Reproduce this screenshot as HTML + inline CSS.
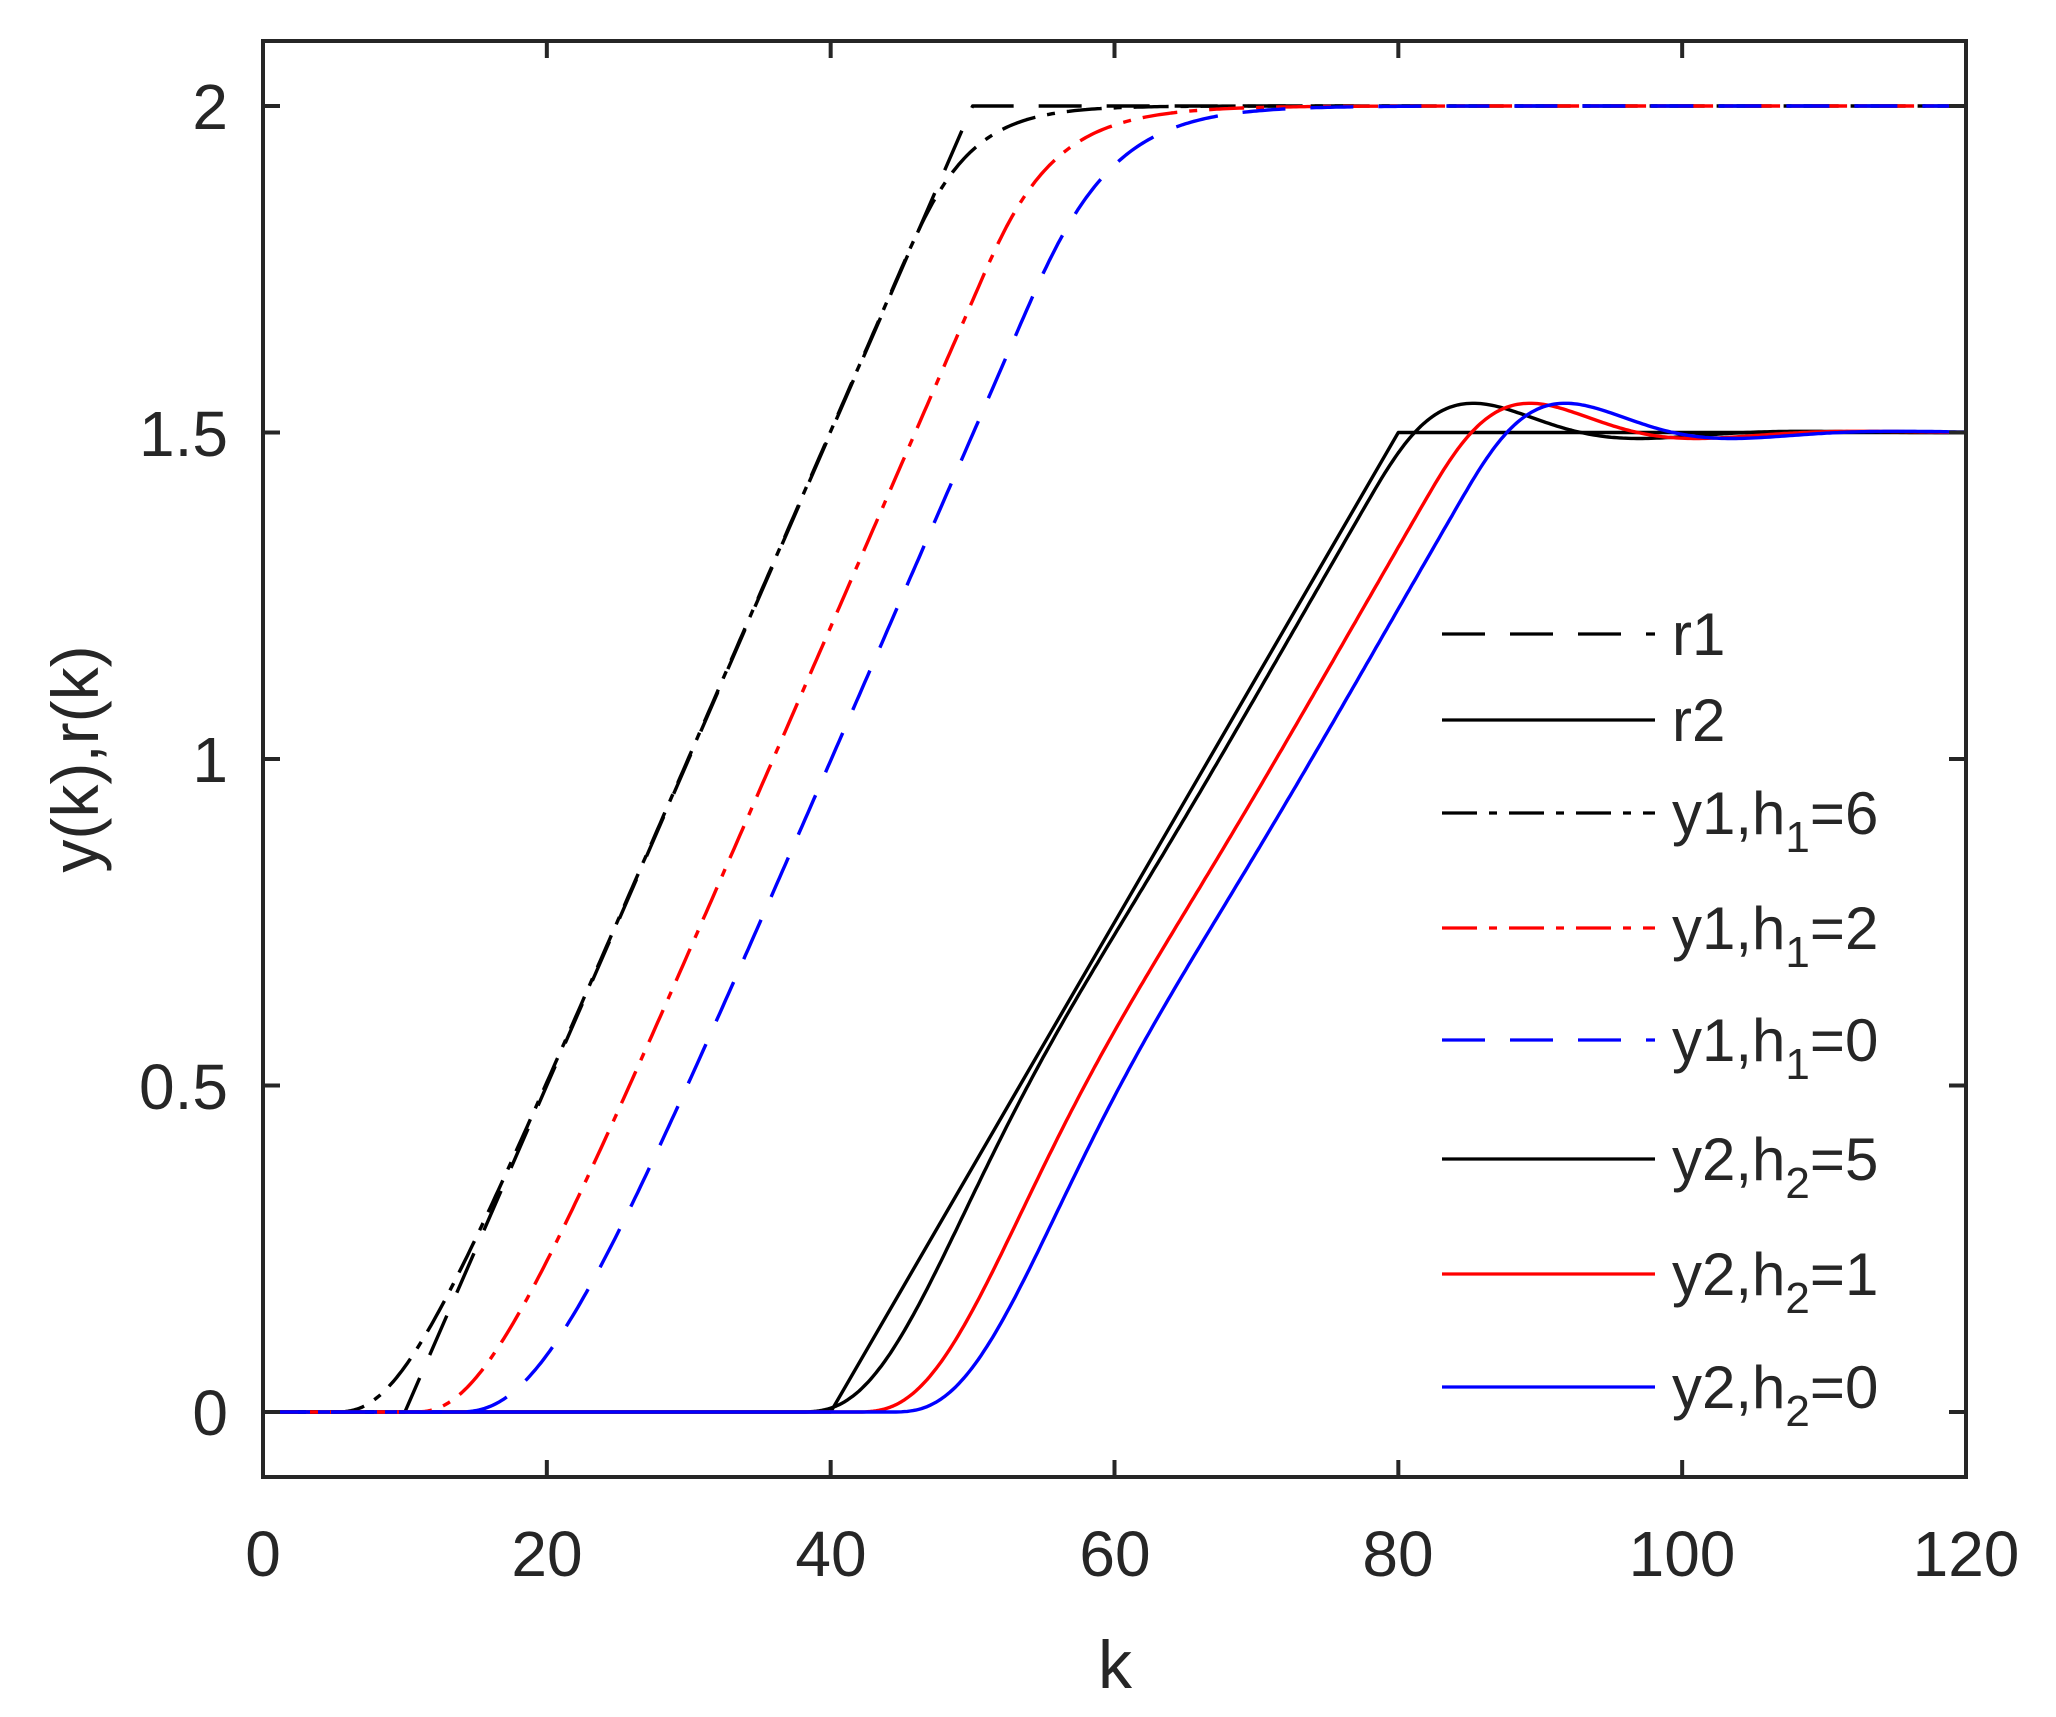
<!DOCTYPE html>
<html><head><meta charset="utf-8"><style>
html,body{margin:0;padding:0;background:#fff;}
svg{display:block;}
text{font-family:"Liberation Sans",Arial,sans-serif;fill:#262626;}
</style></head><body>
<svg id="s" width="2056" height="1717" viewBox="0 0 2056 1717" xmlns="http://www.w3.org/2000/svg">
<defs><clipPath id="c"><rect x="263" y="41" width="1703" height="1436"/></clipPath></defs>
<rect width="2056" height="1717" fill="#fff"/>
<g id="curves" clip-path="url(#c)" fill="none" stroke-width="3.4" stroke-linejoin="round"></g>
<g stroke="#262626" stroke-width="4" fill="none">
<rect x="263" y="41" width="1703" height="1436"/>
<path id="ticks" d=""/>
</g>
<g font-size="64" text-anchor="middle">
<text x="263" y="1576">0</text><text x="547" y="1576">20</text><text x="831" y="1576">40</text>
<text x="1115" y="1576">60</text><text x="1398" y="1576">80</text><text x="1682" y="1576">100</text>
<text x="1966" y="1576">120</text>
</g>
<g font-size="64" text-anchor="end">
<text x="228" y="1435">0</text><text x="228" y="1109">0.5</text><text x="228" y="782">1</text>
<text x="228" y="456">1.5</text><text x="228" y="129">2</text>
</g>
<text x="1115" y="1688" font-size="68" text-anchor="middle">k</text>
<text transform="translate(98,759) rotate(-90)" font-size="66" text-anchor="middle">y(k),r(k)</text>
<g stroke-width="3.2" fill="none">
<line x1="1442" y1="634" x2="1655" y2="634" stroke="#000" stroke-dasharray="43 25"/>
<line x1="1442" y1="720" x2="1655" y2="720" stroke="#000"/>
<line x1="1442" y1="813" x2="1655" y2="813" stroke="#000" stroke-dasharray="35 12 8 12"/>
<line x1="1442" y1="928" x2="1655" y2="928" stroke="#f00" stroke-dasharray="35 12 8 12"/>
<line x1="1442" y1="1040" x2="1655" y2="1040" stroke="#00f" stroke-dasharray="43 25"/>
<line x1="1442" y1="1159" x2="1655" y2="1159" stroke="#000"/>
<line x1="1442" y1="1274" x2="1655" y2="1274" stroke="#f00"/>
<line x1="1442" y1="1387" x2="1655" y2="1387" stroke="#00f"/>
</g>
<g font-size="60" fill="#000">
<text x="1672" y="655">r1</text>
<text x="1672" y="741">r2</text>
<text x="1672" y="834">y1,h<tspan font-size="44" dy="18">1</tspan><tspan dy="-18">=6</tspan></text>
<text x="1672" y="949">y1,h<tspan font-size="44" dy="18">1</tspan><tspan dy="-18">=2</tspan></text>
<text x="1672" y="1061">y1,h<tspan font-size="44" dy="18">1</tspan><tspan dy="-18">=0</tspan></text>
<text x="1672" y="1180">y2,h<tspan font-size="44" dy="18">2</tspan><tspan dy="-18">=5</tspan></text>
<text x="1672" y="1295">y2,h<tspan font-size="44" dy="18">2</tspan><tspan dy="-18">=1</tspan></text>
<text x="1672" y="1408">y2,h<tspan font-size="44" dy="18">2</tspan><tspan dy="-18">=0</tspan></text>
</g>
</svg>
<script>
(function(){
var X=function(k){return 263+k*1703/120;},Y=function(v){return 1412-v*653;};
var t="";
for(var k=0;k<=120;k+=20){t+="M"+X(k)+" 1477v-17M"+X(k)+" 41v17";}
for(var v=0;v<=2;v+=0.5){t+="M263 "+Y(v)+"h17M1966 "+Y(v)+"h-17";}
document.getElementById("ticks").setAttribute("d",t);
function r1(k){return k<=10?0:(k>=50?2:(k-10)*0.05);}
function r2(k){return k<=40?0:(k>=80?1.5:(k-40)*0.0375);}
var dt=0.02;
function fo(r,shift,taus){var ys=[],s=taus.map(function(){return 0;});
 for(var k=0;k<=120.0001;k+=dt){var u=r(k+shift);for(var i=0;i<taus.length;i++){s[i]+= (u-s[i])*dt/taus[i];u=s[i];}
 ys.push([k,u]);}return ys;}
function so(r,shift,z,w){var ys=[],y=0,v=0;
 for(var k=0;k<=120.0001;k+=dt){var a=w*w*(r(k+shift)-y)-2*z*w*v;v+=a*dt;y+=v*dt;ys.push([k,y]);}return ys;}
function path(pts){var d="";for(var i=0;i<pts.length;i+=10){d+=(i?"L":"M")+X(pts[i][0]).toFixed(1)+" "+Y(pts[i][1]).toFixed(1);}
 var l=pts[pts.length-1];d+="L"+X(l[0]).toFixed(1)+" "+Y(l[1]).toFixed(1);return d;}
function lin(f){var p=[];for(var k=0;k<=120;k+=0.5)p.push([k,f(k)]);return p;}
var series=[
 [lin(r2),"#000",""],
 [so(r2,2.3,0.45,0.3),"#000",""],
 [so(r2,-1.7,0.45,0.3),"#f00",""],
 [so(r2,-4.2,0.45,0.3),"#00f",""],
 [lin(r1),"#000","43 25"],
 [fo(r1,5,[3,2]),"#000","35 12 8 12"],
 [fo(r1,-0.5,[4,1.5]),"#f00","35 12 8 12"],
 [fo(r1,-3.5,[3.3,3.3]),"#00f","43 25"]
];
var g=document.getElementById("curves"),ns="http://www.w3.org/2000/svg";
series.forEach(function(s){var p=document.createElementNS(ns,"path");p.setAttribute("d",path(s[0]));
 p.setAttribute("stroke",s[1]);if(s[2])p.setAttribute("stroke-dasharray",s[2]);g.appendChild(p);});
})();
</script>
</body></html>
